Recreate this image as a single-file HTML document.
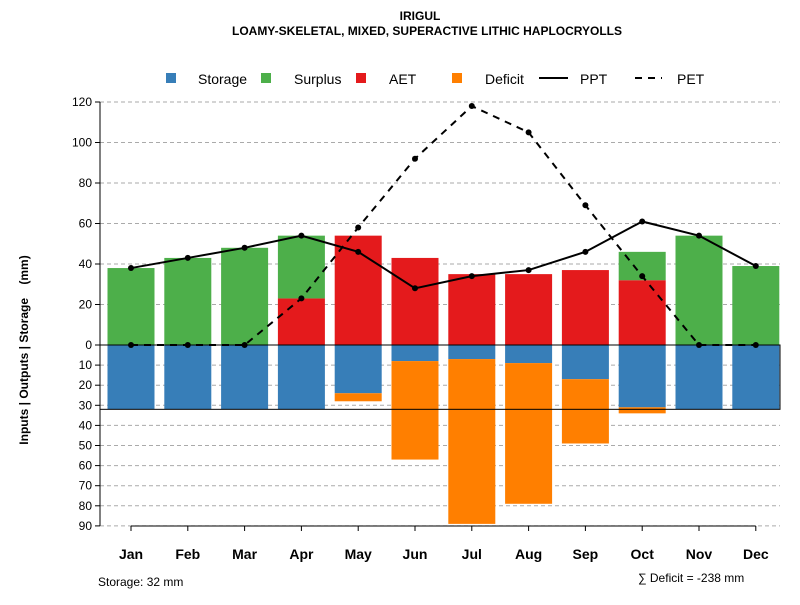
<!DOCTYPE html>
<html><head><meta charset="utf-8"><style>
body{margin:0;background:#fff}
svg{font-family:"Liberation Sans",sans-serif}
</style></head><body>
<svg id="c" width="800" height="600" xmlns="http://www.w3.org/2000/svg">
<text x="420" y="20" text-anchor="middle" font-size="12" font-weight="bold">IRIGUL</text>
<text x="427" y="35" text-anchor="middle" font-size="12" font-weight="bold">LOAMY-SKELETAL, MIXED, SUPERACTIVE LITHIC HAPLOCRYOLLS</text>
<g id="legend" font-size="14">
<rect x="166" y="73" width="10" height="10" fill="#377eb8"/><text x="198" y="84">Storage</text>
<rect x="261" y="73" width="10" height="10" fill="#4daf4a"/><text x="294" y="84">Surplus</text>
<rect x="356" y="73" width="10" height="10" fill="#e41a1c"/><text x="389" y="84">AET</text>
<rect x="452" y="73" width="10" height="10" fill="#ff7f00"/><text x="485" y="84">Deficit</text>
<line x1="539" y1="78" x2="568" y2="78" stroke="#000" stroke-width="2"/><text x="580" y="84">PPT</text>
<line x1="635" y1="78" x2="662" y2="78" stroke="#000" stroke-width="2" stroke-dasharray="7,6"/><text x="677" y="84">PET</text>
</g>
<text transform="translate(28,350) rotate(-90)" text-anchor="middle" font-size="12" font-weight="bold" style="white-space:pre">Inputs | Outputs | Storage    (mm)</text>
<text x="98" y="586" font-size="12">Storage: 32 mm</text>
<text x="638" y="582" font-size="12">∑ Deficit = -238 mm</text>
</svg>
<script>
const months=["Jan","Feb","Mar","Apr","May","Jun","Jul","Aug","Sep","Oct","Nov","Dec"];
const surplus=[38,43,48,31,0,0,0,0,0,14,54,39];
const aet=[0,0,0,23,54,43,35,35,37,32,0,0];
const storage=[32,32,32,32,24,8,7,9,17,31,32,32];
const deficit=[0,0,0,0,4,49,82,70,32,3,0,0];
const ppt=[38,43,48,54,46,28,34,37,46,61,54,39];
const pet=[0,0,0,23,58,92,118,105,69,34,0,0];
const upTicks=[0,20,40,60,80,100,120];
const downTicks=[10,20,30,40,50,60,70,80,90];
const storageCap=32;
const svg=document.getElementById('c');const NS="http://www.w3.org/2000/svg";
const y0=345,ky=2.025,kd=2.01;
const yU=v=>y0-v*ky, yD=v=>y0+v*kd, xC=i=>131+i*56.8, bw=47;
function mk(t,a,p){const e=document.createElementNS(NS,t);for(const k in a)e.setAttribute(k,a[k]);(p||svg).appendChild(e);return e;}
const grid=mk('g',{});


upTicks.forEach(v=>{if(v>0){const l=mk('line',{x1:100,x2:780,y1:yU(v),y2:yU(v),stroke:'#aaa','stroke-dasharray':'4,3'},grid);}
const t=mk('text',{x:92,y:yU(v)+4,'text-anchor':'end','font-size':12});t.textContent=v;


mk('line',{x1:95,x2:100,y1:yU(v),y2:yU(v),stroke:'#000'});});
downTicks.forEach(v=>{mk('line',{x1:100,x2:780,y1:yD(v),y2:yD(v),stroke:'#aaa','stroke-dasharray':'4,3'},grid);
const t=mk('text',{x:92,y:yD(v)+4,'text-anchor':'end','font-size':12});t.textContent=v;


mk('line',{x1:95,x2:100,y1:yD(v),y2:yD(v),stroke:'#000'});});
mk('line',{x1:100,x2:100,y1:yU(120),y2:yD(90),stroke:'#000'});
months.forEach((m,i)=>{const x=xC(i)-bw/2;
function bar(y1,y2,f,n){const r=mk('rect',{x:x,y:Math.min(y1,y2),width:bw,height:Math.abs(y2-y1),fill:f});

}
if(aet[i])bar(yU(0),yU(aet[i]),'#e41a1c','bar-aet-'+m.toLowerCase());
if(surplus[i])bar(yU(aet[i]),yU(aet[i]+surplus[i]),'#4daf4a','bar-surplus-'+m.toLowerCase());
bar(yD(0),yD(storage[i]),'#377eb8','bar-storage-'+m.toLowerCase());
if(deficit[i])bar(yD(storage[i]),yD(storage[i]+deficit[i]),'#ff7f00','bar-deficit-'+m.toLowerCase());
const t=mk('text',{x:xC(i),y:559,'text-anchor':'middle','font-size':14,'font-weight':'bold'});t.textContent=m;


mk('line',{x1:xC(i),x2:xC(i),y1:526,y2:531,stroke:'#000'});});
mk('line',{x1:xC(0),x2:xC(11),y1:526,y2:526,stroke:'#000'});
const box=mk('rect',{x:100,y:y0,width:680,height:storageCap*kd,fill:'none',stroke:'#000'});


function line(d,dash,n){const p=mk('polyline',{points:d.map((v,i)=>xC(i)+','+yU(v)).join(' '),fill:'none',stroke:'#000','stroke-width':2,'stroke-dasharray':dash});


d.forEach((v,i)=>{const c=mk('circle',{cx:xC(i),cy:yU(v),r:3,fill:'#000'});

});}
line(ppt,'none','ppt-line');line(pet,'7,6','pet-line');
</script>
</body></html>
